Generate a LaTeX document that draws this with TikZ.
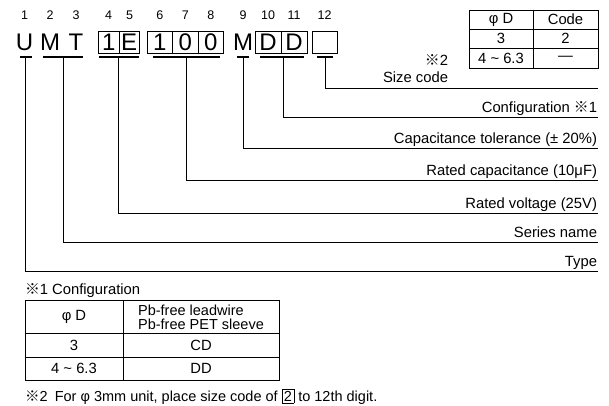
\documentclass[tikz,border=0pt]{standalone}
\usepackage{fontspec}
\setmainfont{Liberation Sans}
\newfontfamily\cjk{Noto Sans CJK JP}
\newcommand{\kome}{{\cjk ※}}
\begin{document}
\begin{tikzpicture}[x=1pt,y=-1pt,
  every node/.style={inner sep=0pt, outer sep=0pt},
  dig/.style={font=\fontsize{12.5}{14}\selectfont},
  big/.style={font=\fontsize{24}{26}\selectfont},
  cell/.style={draw, line width=0.8pt, minimum height=22pt, font=\fontsize{24}{26}\selectfont},
  lab/.style={anchor=base east, font=\fontsize{14.8}{16}\selectfont},
  tab/.style={font=\fontsize{14.8}{16}\selectfont},
  uline/.style={line width=1.6pt},
  conn/.style={line width=0.8pt},
]
\useasboundingbox (0,0) rectangle (609,406);

% digit positions
\foreach \n/\x in {1/24.5,2/50,3/76,4/108.5,5/129.5,6/159.75,7/185.25,8/210.75,9/243,10/268,11/294,12/324.5}
  \node[dig] (d\n) at (\x,15) {\n};

% code letters
\node[big] (cU) at (24.5,42) {U};
\node[big] (cM) at (50,42) {M};
\node[big] (cT) at (76,42) {T};
\node[cell, minimum width=20.5pt] (c4) at (108.75,42) {1};
\node[cell, minimum width=20.5pt] (c5) at (129.25,42) {E};
\node[cell, minimum width=25.5pt] (c6) at (159.75,42) {1};
\node[cell, minimum width=25.5pt] (c7) at (185.25,42) {0};
\node[cell, minimum width=25.5pt] (c8) at (210.75,42) {0};
\node[big] (c9) at (243,42) {M};
\node[cell, minimum width=26pt] (c10) at (268,42) {D};
\node[cell, minimum width=26pt] (c11) at (294,42) {D};
\node[cell, minimum width=25pt] (c12) at (324.5,42) {\phantom{D}};

% underlines
\draw[uline] (20,57) -- (32,57);
\draw[uline] (43,57) -- (83,57);
\draw[uline] (99,57) -- (139,57);
\draw[uline] (153,57) -- (220,57);
\draw[uline] (237,57) -- (249,57);
\draw[uline] (260,57) -- (304,57);
\draw[uline] (317,57) -- (333,57);

% connector start points
\coordinate (sU) at (25,57);
\coordinate (sMT) at (63,57);
\coordinate (sV) at (118,57);
\coordinate (sC) at (186,57);
\coordinate (sTol) at (243,57);
\coordinate (sCfg) at (283,57);
\coordinate (sSz) at (325,57);
% connector end points
\coordinate (eSz) at (597.7,88.3);
\coordinate (eCfg) at (597.7,117.7);
\coordinate (eTol) at (597.7,148);
\coordinate (eC) at (597.7,180.7);
\coordinate (eV) at (597.7,213);
\coordinate (eMT) at (597.7,242);
\coordinate (eU) at (597.7,271.3);

\draw[conn] (sSz) |- (eSz);
\draw[conn] (sCfg) |- (eCfg);
\draw[conn] (sTol) |- (eTol);
\draw[conn] (sC) |- (eC);
\draw[conn] (sV) |- (eV);
\draw[conn] (sMT) |- (eMT);
\draw[conn] (sU) |- (eU);

% labels
\node[lab] (lCfg) at (597,112.7) {Configuration \kome1};
\node[lab] (lTol) at (597,143) {Capacitance tolerance (± 20\%)};
\node[lab] (lC) at (597,175.7) {Rated capacitance (10μF)};
\node[lab] (lV) at (597,208) {Rated voltage (25V)};
\node[lab] (lMT) at (597,237) {Series name};
\node[lab] (lU) at (597,266.3) {Type};
\node[lab] (lSz1) at (448,66) {\kome2};
\node[lab] (lSz2) at (448,83) {Size code};

% size code table
\draw[conn] (469,10) rectangle (598,68);
\draw[conn] (533,10) -- (533,68);
\draw[conn] (469,29) -- (598,29);
\draw[conn] (469,48) -- (598,48);
\node[tab] (t11) at (501,19.5) {φ D};
\node[tab] (t12) at (565.5,19.5) {Code};
\node[tab] (t21) at (501,38.5) {3};
\node[tab] (t22) at (565.5,38.5) {2};
\node[tab] (t31) at (501,58) {4 \textasciitilde{} 6.3};
\node[tab] (t32) at (565.5,58) {—};

% configuration table
\node[tab, anchor=base west] (cfgT) at (25,294) {\kome1 Configuration};
\draw[conn] (25,300) rectangle (279,380);
\draw[conn] (123,300) -- (123,380);
\draw[conn] (25,333) -- (279,333);
\draw[conn] (25,357) -- (279,357);
\node[tab] (b11) at (74,316.5) {φ D};
\node[tab, align=left, font=\fontsize{14.5}{14}\selectfont] (b12) at (201,317) {Pb-free leadwire\\Pb-free PET sleeve};
\node[tab] (b21) at (74,345) {3};
\node[tab] (b22) at (201,345) {CD};
\node[tab] (b31) at (74,368.5) {4 \textasciitilde{} 6.3};
\node[tab] (b32) at (201,368.5) {DD};

% footnote
\setlength{\fboxsep}{1.5pt}\setlength{\fboxrule}{0.7pt}
\node[anchor=base west, font=\fontsize{14.5}{15}\selectfont] (fn) at (25,401)
  {\kome2\hspace{0.5em}For φ 3mm unit, place size code of \fbox{2} to 12th digit.};
\end{tikzpicture}
\end{document}
